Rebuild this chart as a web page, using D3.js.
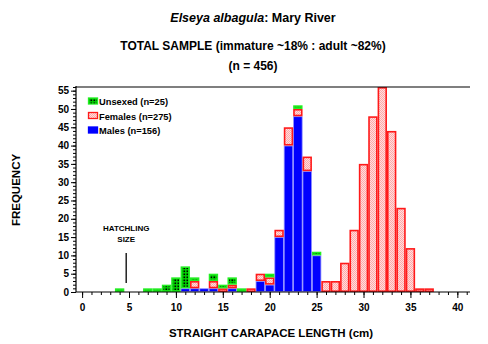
<!DOCTYPE html>
<html><head><meta charset="utf-8">
<script src="https://cdn.jsdelivr.net/npm/d3@7/dist/d3.min.js"></script>
<style>
body{margin:0;background:#fff;}
text{font-family:"Liberation Sans",Arial,sans-serif;font-weight:bold;fill:#000;}
</style></head>
<body><svg id="c" width="488" height="344"></svg>
<script>
// data
const lengths  = [4,7,8,9,10,11,12,13,14,15,16,17,18,19,20,21,22,23,24,25,26,27,28,29,30,31,32,33,34,35,36,37];
const males    = [0,0,0,0,0,1,1,1,1,0,1,0,0,3,2,15,40,48,33,10,0,0,0,0,0,0,0,0,0,0,0,0];
const females  = [0,0,0,0,0,0,2,0,2,1,1,0,1,2,2,2,5,2,4,0,3,3,8,17,35,48,56,44,23,12,1,1];
const unsexed  = [1,1,1,2,4,6,1,0,2,1,2,1,0,0,1,0,0,1,0,1,0,0,0,0,0,0,0,0,0,0,0,0];
const xTickLabels = [0,5,10,15,20,25,30,35,40];
const yTickLabels = [0,5,10,15,20,25,30,35,40,45,50,55];
const legendItems = ["Unsexed (n=25)","Females (n=275)","Males (n=156)"];

const svg = d3.select("#c");
const defs = svg.append("defs");
// unsexed pattern: green with black dots
const pu = defs.append("pattern").attr("id","pu").attr("patternUnits","userSpaceOnUse").attr("width",3).attr("height",3);
pu.append("rect").attr("width",3).attr("height",3).attr("fill","#00d000");
pu.append("rect").attr("x",0.5).attr("y",0.5).attr("width",1.6).attr("height",1.6).attr("fill","#000");
// female pattern: pink stipple
const pf = defs.append("pattern").attr("id","pf").attr("patternUnits","userSpaceOnUse").attr("width",2).attr("height",2);
pf.append("rect").attr("width",2).attr("height",2).attr("fill","#ffdede");
pf.append("rect").attr("width",1).attr("height",1).attr("fill","#ffa8a8");
pf.append("rect").attr("x",1).attr("y",1).attr("width",1).attr("height",1).attr("fill","#ffa8a8");

const x = d3.scaleLinear().domain([-0.65,41.35]).range([76,470]);
const y = d3.scaleLinear().domain([0,56]).range([292,87]);

svg.append("clipPath").attr("id","clip").append("rect").attr("x",76).attr("y",87).attr("width",394).attr("height",205);
const g = svg.append("g").attr("clip-path","url(#clip)");

const series = [
  {vals:males, fill:"#0000ff", stroke:"#9090ff", sw:0.8, inset:0.4},
  {vals:females, fill:"url(#pf)", stroke:"#ff1a1a", sw:1.6, inset:0.8},
  {vals:unsexed, fill:"url(#pu)", stroke:"#22ee22", sw:1.6, inset:0.8}
];
const stack = lengths.map(()=>0);
series.forEach(s=>{
  lengths.forEach((L,i)=>{
    const v = s.vals[i];
    if(!v) return;
    const b0 = stack[i], b1 = stack[i]+v;
    stack[i]=b1;
    const x0 = x(L-0.5), x1 = x(L+0.5);
    const yt = Math.max(y(b1), 86);
    g.append("rect")
      .attr("x",x0+s.inset).attr("width",x1-x0-2*s.inset)
      .attr("y",yt+s.inset).attr("height",Math.max(0,y(b0)-yt-2*s.inset))
      .attr("fill",s.fill).attr("stroke",s.stroke).attr("stroke-width",s.sw);
  });
});

// axes
const xAxisMinor = d3.axisBottom(x).tickValues(d3.range(0,42,1)).tickSize(3).tickFormat("");
const xAxisMajor = d3.axisBottom(x).tickValues(xTickLabels).tickSize(6).tickPadding(4);
svg.append("g").attr("transform","translate(0,292)").call(xAxisMinor).call(a=>{a.select(".domain").remove();});
const xa = svg.append("g").attr("transform","translate(0,292)").call(xAxisMajor);
xa.select(".domain").remove();
xa.selectAll("text").attr("font-size","10px").attr("dy","0.85em");
svg.append("line").attr("x1",76).attr("x2",470).attr("y1",292).attr("y2",292).attr("stroke","#000").attr("stroke-width",1.2);

const yAxisMinor = d3.axisLeft(y).tickValues(d3.range(0,57,1)).tickSize(3).tickFormat("");
const yAxisMajor = d3.axisLeft(y).tickValues(yTickLabels).tickSize(5).tickPadding(2);
svg.append("g").attr("transform","translate(76,0)").call(yAxisMinor).call(a=>a.select(".domain").remove());
const ya = svg.append("g").attr("transform","translate(76,0)").call(yAxisMajor);
ya.select(".domain").remove();
ya.selectAll("text").attr("font-size","10px");
svg.append("line").attr("x1",76).attr("x2",76).attr("y1",86).attr("y2",292).attr("stroke","#000").attr("stroke-width",1.2);
svg.append("line").attr("x1",76).attr("x2",470).attr("y1",87).attr("y2",87).attr("stroke","#000").attr("stroke-width",1.2);
svg.selectAll(".tick line").attr("stroke","#000");

// hatchling marker
svg.append("line").attr("x1",x(4.7)).attr("x2",x(4.7)).attr("y1",253).attr("y2",283).attr("stroke","#000").attr("stroke-width",1.3);
svg.append("text").attr("x",x(4.7)).attr("y",231).attr("text-anchor","middle").attr("font-size","8px").text("HATCHLING");
svg.append("text").attr("x",x(4.7)).attr("y",242).attr("text-anchor","middle").attr("font-size","8px").text("SIZE");

// legend
const lfills = ["url(#pu)","url(#pf)","#0000ff"];
const lstrokes = ["#22ee22","#ff1a1a","#0000ff"];
legendItems.forEach((t,i)=>{
  const yy = 98 + i*14.5;
  svg.append("rect").attr("x",88.5).attr("y",yy).attr("width",9).attr("height",6)
    .attr("fill",lfills[i]).attr("stroke",lstrokes[i]).attr("stroke-width",1.3);
  svg.append("text").attr("x",99).attr("y",yy+7).attr("font-size","9.3px").text(t);
});

// titles
const t1 = svg.append("text").attr("x",253).attr("y",22).attr("text-anchor","middle").attr("font-size","12.5px");
t1.append("tspan").attr("font-style","italic").text("Elseya albagula");
t1.append("tspan").text(": Mary River");
svg.append("text").attr("x",253).attr("y",50).attr("text-anchor","middle").attr("font-size","12px").text("TOTAL SAMPLE (immature ~18% : adult ~82%)");
svg.append("text").attr("x",253).attr("y",70).attr("text-anchor","middle").attr("font-size","12px").text("(n = 456)");

svg.append("text").attr("x",271).attr("y",337).attr("text-anchor","middle").attr("font-size","11.5px").text("STRAIGHT CARAPACE LENGTH (cm)");
svg.append("text").attr("transform","translate(20,190) rotate(-90)").attr("text-anchor","middle").attr("font-size","11.5px").text("FREQUENCY");
</script></body></html>
